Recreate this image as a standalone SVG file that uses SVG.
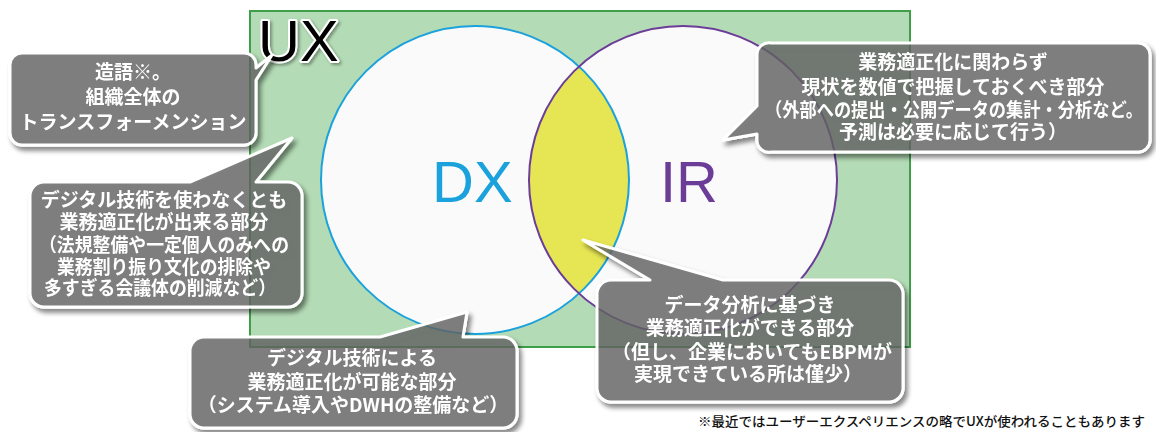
<svg xmlns="http://www.w3.org/2000/svg" width="1156" height="432" viewBox="0 0 1156 432">
<defs>
<filter id="sh" x="-10%" y="-10%" width="125%" height="130%">
<feGaussianBlur in="SourceAlpha" stdDeviation="2.5" result="b"/>
<feOffset in="b" dx="3" dy="4" result="o"/>
<feComponentTransfer in="o" result="o2"><feFuncA type="linear" slope="0.55"/></feComponentTransfer>
<feComposite in="o2" in2="SourceAlpha" operator="out" result="s"/>
<feMerge><feMergeNode in="s"/><feMergeNode in="SourceGraphic"/></feMerge>
</filter>
<filter id="glow" x="-20%" y="-20%" width="140%" height="140%">
<feGaussianBlur in="SourceAlpha" stdDeviation="1.5" result="b"/>
<feOffset in="b" dx="1.5" dy="1.5" result="o"/>
<feComponentTransfer in="o" result="o2"><feFuncA type="linear" slope="0.35"/></feComponentTransfer>
<feMerge><feMergeNode in="o2"/><feMergeNode in="SourceGraphic"/></feMerge>
</filter>
</defs>
<style>
.bub{fill:#626262;fill-opacity:0.8;stroke:#ffffff;stroke-width:3;stroke-linejoin:round}
.bt{font-family:"Noto Sans CJK JP","Noto Sans CJK SC",sans-serif;font-weight:700;font-size:19px;fill:#ffffff;text-anchor:middle}
.big{font-family:"Liberation Sans","DejaVu Sans",sans-serif;font-size:58px}
.note{font-family:"Noto Sans CJK JP",sans-serif;font-weight:500;font-size:13px;fill:#111111}
</style>
<rect x="0" y="0" width="1156" height="432" fill="#ffffff"/>
<g id="ux">
<rect x="250" y="11" width="660" height="336" fill="#b3dbb5" stroke="#3f9e4a" stroke-width="2"/>
<text x="258" y="61" class="big" fill="#000000" stroke="#ffffff" stroke-width="4" paint-order="stroke" stroke-linejoin="round" filter="url(#glow)">UX</text>
</g>
<g id="dx">
<circle cx="475" cy="180" r="154" fill="#fafafa"/>
</g>
<g id="ir">
<circle cx="683" cy="180" r="154" fill="#fafafa"/>
</g>
<g id="overlap">
<path d="M579,66.4 A154,154 0 0 1 579,293.6 A154,154 0 0 1 579,66.4 Z" fill="#e6e654"/>
</g>
<g id="outlines">
<circle cx="475" cy="180" r="154" fill="none" stroke="#1ba1db" stroke-width="2"/>
<circle cx="683" cy="180" r="154" fill="none" stroke="#6b3c98" stroke-width="2"/>
<text x="432" y="202" class="big" fill="#1ba1db">DX</text>
<text x="660" y="202" class="big" fill="#6b3c98">IR</text>
</g>
<g id="callout-ux" filter="url(#sh)">
<path class="bub" d="M22,53 H244 A12,12 0 0 1 256,65 V68 L272,55 L256,80 V133 A12,12 0 0 1 244,145 H22 A12,12 0 0 1 10,133 V65 A12,12 0 0 1 22,53 Z"/>
<text class="bt" x="133" y="79">造語※。</text>
<text class="bt" x="133" y="104">組織全体の</text>
<text class="bt" x="133" y="129">トランスフォーメンション</text>
</g>
<g id="callout-nodigital" filter="url(#sh)">
<path class="bub" d="M44,182 H190 L292,138 L256,182 H288 A14,14 0 0 1 302,196 V293 A14,14 0 0 1 288,307 H44 A14,14 0 0 1 30,293 V196 A14,14 0 0 1 44,182 Z"/>
<text class="bt" x="164" y="207">デジタル技術を使わなくとも</text>
<text class="bt" x="164" y="229">業務適正化が出来る部分</text>
<text class="bt" x="164" y="252" textLength="250" lengthAdjust="spacingAndGlyphs">（法規整備や一定個人のみへの</text>
<text class="bt" x="164" y="274" textLength="214" lengthAdjust="spacingAndGlyphs">業務割り振り文化の排除や</text>
<text class="bt" x="160" y="295" textLength="232" lengthAdjust="spacingAndGlyphs">多すぎる会議体の削減など）</text>
</g>
<g id="callout-dx" filter="url(#sh)">
<path class="bub" d="M204,337 H380 L467,312 L463,337 H503 A14,14 0 0 1 517,351 V414 A14,14 0 0 1 503,428 H204 A14,14 0 0 1 190,414 V351 A14,14 0 0 1 204,337 Z"/>
<text class="bt" x="352" y="365">デジタル技術による</text>
<text class="bt" x="352" y="389">業務適正化が可能な部分</text>
<text class="bt" x="353" y="412">（システム導入やDWHの整備など）</text>
</g>
<g id="callout-overlap" filter="url(#sh)">
<path class="bub" d="M611,280 H650 L583,240 L723,280 H889 A14,14 0 0 1 903,294 V388 A14,14 0 0 1 889,402 H611 A14,14 0 0 1 597,388 V294 A14,14 0 0 1 611,280 Z"/>
<text class="bt" x="750" y="312">データ分析に基づき</text>
<text class="bt" x="750" y="335">業務適正化ができる部分</text>
<text class="bt" x="752" y="359">（但し、企業においてもEBPMが</text>
<text class="bt" x="748" y="381">実現できている所は僅少）</text>
</g>
<g id="callout-ir" filter="url(#sh)">
<path class="bub" d="M771,43 H1138 A12,12 0 0 1 1150,55 V140 A12,12 0 0 1 1138,152 H771 A12,12 0 0 1 757,140 V134 L723,140 L757,106 V55 A12,12 0 0 1 771,43 Z"/>
<text class="bt" x="953" y="69">業務適正化に関わらず</text>
<text class="bt" x="953" y="94">現状を数値で把握しておくべき部分</text>
<text class="bt" x="954" y="117" textLength="378" lengthAdjust="spacingAndGlyphs">（外部への提出・公開データの集計・分析など。</text>
<text class="bt" x="953" y="139">予測は必要に応じて行う）</text>
</g>
<g id="footnote">
<text class="note" x="698" y="426" textLength="447" lengthAdjust="spacingAndGlyphs">※最近ではユーザーエクスペリエンスの略でUXが使われることもあります</text>
</g>
</svg>
